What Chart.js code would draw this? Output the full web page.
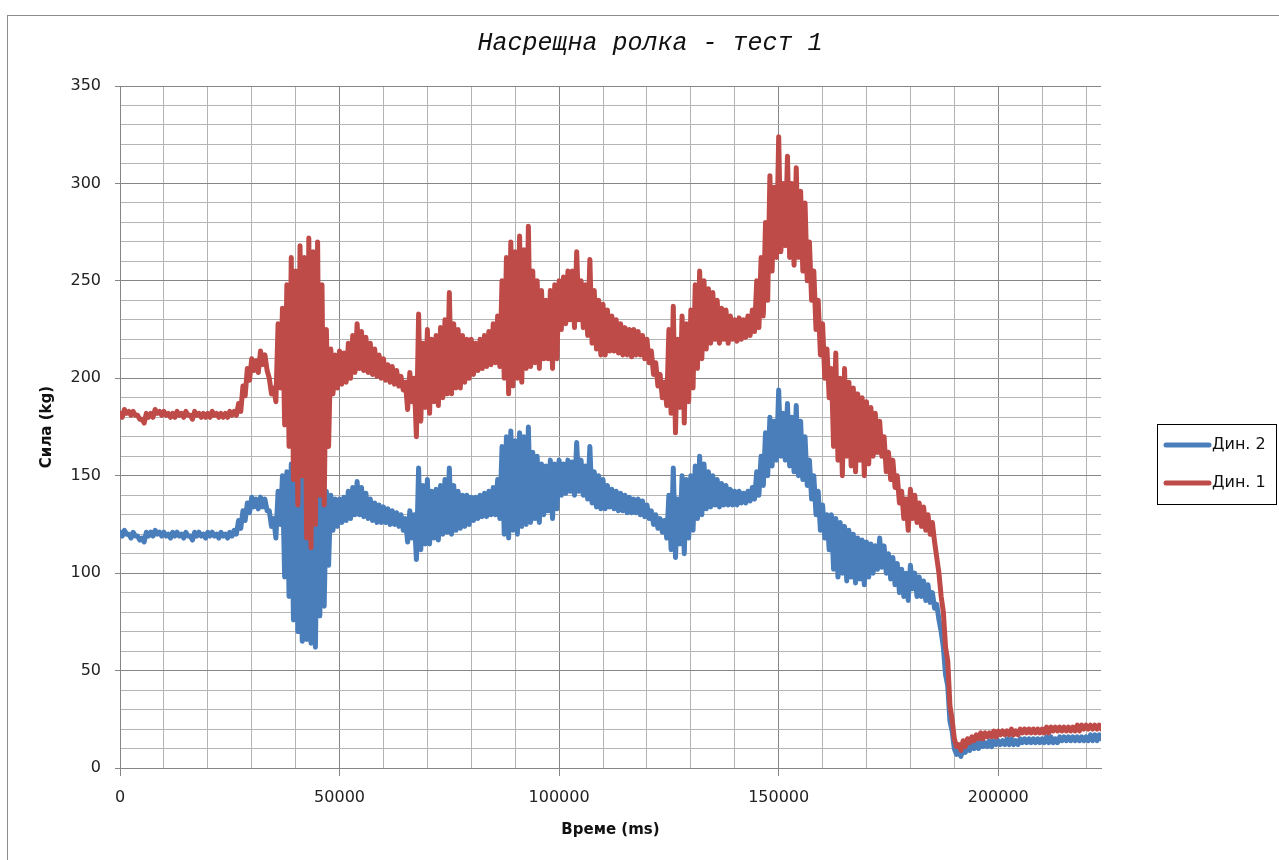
<!DOCTYPE html>
<html lang="bg">
<head>
<meta charset="UTF-8">
<title>Насрещна ролка - тест 1</title>
<script src="https://cdn.jsdelivr.net/npm/chart.js"></script>
<style>
  body { margin: 0; background: #fff; }
  #wrap { width: 1279px; height: 860px; }
</style>
</head>
<body>
<div id="wrap"><canvas id="forceChart" width="1279" height="860"></canvas></div>
<script>
// време (ms) - начало на всяка секунда
const time = [
  0, 1000, 2000, 3000, 4000, 5000, 6000, 7000, 8000, 9000,
  10000, 11000, 12000, 13000, 14000, 15000, 16000, 17000, 18000, 19000,
  20000, 21000, 22000, 23000, 24000, 25000, 26000, 27000, 28000, 29000,
  30000, 31000, 32000, 33000, 34000, 35000, 36000, 37000, 38000, 39000,
  40000, 41000, 42000, 43000, 44000, 45000, 46000, 47000, 48000, 49000,
  50000, 51000, 52000, 53000, 54000, 55000, 56000, 57000, 58000, 59000,
  60000, 61000, 62000, 63000, 64000, 65000, 66000, 67000, 68000, 69000,
  70000, 71000, 72000, 73000, 74000, 75000, 76000, 77000, 78000, 79000,
  80000, 81000, 82000, 83000, 84000, 85000, 86000, 87000, 88000, 89000,
  90000, 91000, 92000, 93000, 94000, 95000, 96000, 97000, 98000, 99000,
  100000, 101000, 102000, 103000, 104000, 105000, 106000, 107000, 108000, 109000,
  110000, 111000, 112000, 113000, 114000, 115000, 116000, 117000, 118000, 119000,
  120000, 121000, 122000, 123000, 124000, 125000, 126000, 127000, 128000, 129000,
  130000, 131000, 132000, 133000, 134000, 135000, 136000, 137000, 138000, 139000,
  140000, 141000, 142000, 143000, 144000, 145000, 146000, 147000, 148000, 149000,
  150000, 151000, 152000, 153000, 154000, 155000, 156000, 157000, 158000, 159000,
  160000, 161000, 162000, 163000, 164000, 165000, 166000, 167000, 168000, 169000,
  170000, 171000, 172000, 173000, 174000, 175000, 176000, 177000, 178000, 179000,
  180000, 181000, 182000, 183000, 184000, 185000, 186000, 187000, 188000, 189000,
  190000, 191000, 192000, 193000, 194000, 195000, 196000, 197000, 198000, 199000,
  200000, 201000, 202000, 203000, 204000, 205000, 206000, 207000, 208000, 209000,
  210000, 211000, 212000, 213000, 214000, 215000, 216000, 217000, 218000, 219000,
  220000, 221000, 222000, 223000
];

// Дин. 1 (kg) - горна граница на трептенето във всяка секунда
const din1Max = [
  182, 184, 183, 183, 181, 179, 182, 182, 184, 183,
  183, 182, 182, 183, 182, 183, 181, 183, 182, 182,
  182, 183, 182, 182, 182, 183, 183, 187, 196, 205,
  210, 209, 214, 212, 200, 195, 228, 236, 248, 262,
  255, 268, 262, 272, 265, 270, 248, 225, 215, 212,
  214, 213, 218, 222, 228, 224, 221, 218, 215, 212,
  210, 207, 206, 204, 201, 198, 203, 200, 233, 218,
  225, 220, 222, 226, 230, 244, 228, 225, 222, 220,
  220, 218, 220, 222, 224, 228, 232, 250, 262, 270,
  265, 273, 266, 278, 255, 250, 245, 240, 245, 248,
  250, 252, 255, 255, 265, 250, 248, 261, 245, 240,
  238, 235, 232, 230, 228, 226, 225, 225, 224, 222,
  220, 214, 208, 202, 198, 225, 237, 220, 232, 228,
  235, 248, 255, 250, 246, 244, 240, 236, 235, 232,
  230, 231, 230, 232, 235, 250, 262, 280, 304, 298,
  324, 300, 314, 300, 308, 296, 290, 270, 255, 240,
  228, 215, 205, 213, 200, 205, 198, 195, 192, 190,
  188, 185, 182, 178, 170, 162, 158, 150, 142, 138,
  143, 140, 136, 134, 130, 126, 108, 88, 62, 32,
  15, 12, 14, 15, 16, 17, 18, 18, 18, 19,
  19, 19, 19, 20, 19, 20, 20, 20, 20, 20,
  20, 21, 21, 21, 21, 21, 21, 21, 22, 22,
  22, 22, 22, 22
];

// Дин. 1 (kg) - долна граница
const din1Min = [
  180, 182, 181, 181, 179, 177, 180, 180, 182, 181,
  181, 180, 180, 181, 180, 181, 179, 181, 180, 180,
  180, 181, 180, 180, 180, 181, 181, 183, 191, 199,
  204, 203, 207, 204, 192, 188, 195, 176, 165, 148,
  135, 150, 118, 113, 125, 140, 135, 165, 192, 195,
  197, 198, 200, 203, 205, 204, 203, 202, 201, 200,
  199, 198, 197, 196, 194, 184, 188, 170, 178, 185,
  182, 188, 186, 190, 192, 192, 195, 195, 198, 200,
  202, 204, 205, 206, 207, 208, 206, 200, 192, 196,
  200, 198, 205, 206, 208, 205, 210, 210, 205, 210,
  225, 228, 230, 226, 230, 226, 222, 218, 215, 212,
  212, 214, 214, 213, 212, 212, 211, 212, 212, 210,
  208, 202, 196, 190, 186, 182, 172, 185, 177, 188,
  195, 205, 210, 215, 218, 220, 218, 220, 218, 220,
  219, 220, 221, 222, 224, 226, 232, 240, 255, 262,
  265, 268, 262, 258, 262, 255, 250, 240, 225, 212,
  200, 190, 165, 158, 150, 160, 155, 152, 158, 150,
  156, 160, 162, 160, 152, 148, 144, 136, 128, 122,
  128, 126, 124, 122, 120, 116, 100, 80, 55, 25,
  11, 9, 11, 13, 14, 15, 15, 16, 16, 16,
  17, 17, 17, 17, 17, 18, 18, 18, 18, 18,
  18, 18, 19, 19, 19, 19, 19, 19, 19, 20,
  20, 20, 20, 20
];

// Дин. 2 (kg) - горна граница
const din2Max = [
  121, 122, 120, 121, 119, 118, 121, 121, 122, 121,
  121, 120, 121, 121, 120, 121, 119, 121, 121, 120,
  121, 121, 120, 121, 120, 121, 122, 127, 132, 136,
  139, 138, 139, 138, 132, 128, 142, 150, 152, 156,
  155, 158, 150, 152, 150, 148, 145, 142, 140, 138,
  138, 139, 142, 144, 147, 144, 141, 138, 136, 135,
  134, 133, 132, 131, 130, 128, 132, 130, 154, 145,
  148, 142, 143, 145, 148, 154, 145, 142, 140, 140,
  139, 139, 140, 141, 142, 144, 148, 165, 170, 173,
  168, 172, 170, 175, 162, 160, 156, 155, 158, 156,
  158, 156, 158, 157, 167, 158, 155, 165, 152, 150,
  148, 145, 143, 142, 141, 140, 139, 138, 138, 137,
  135, 132, 130, 128, 127, 140, 154, 138, 150, 148,
  150, 155, 160, 156, 152, 150, 148, 146, 145, 143,
  142, 142, 141, 142, 144, 152, 160, 172, 180, 178,
  194, 182, 187, 180, 186, 178, 170, 158, 150, 142,
  135, 130, 130, 128, 126, 124, 122, 120, 118, 117,
  116, 115, 114, 118, 114, 110, 108, 105, 102, 100,
  104, 100, 98, 96, 94, 90, 84, 70, 48, 24,
  10, 9, 10, 11, 12, 13, 13, 13, 14, 14,
  14, 14, 15, 15, 14, 15, 15, 15, 15, 15,
  15, 16, 16, 15, 16, 16, 16, 16, 16, 16,
  16, 17, 17, 17
];

// Дин. 2 (kg) - долна граница
const din2Min = [
  119, 120, 118, 119, 117, 116, 119, 119, 120, 119,
  119, 118, 119, 119, 118, 119, 117, 119, 119, 118,
  119, 119, 118, 119, 118, 119, 120, 123, 127, 131,
  134, 133, 134, 132, 124, 118, 125, 98, 88, 76,
  70, 65, 66, 64, 62, 78, 83, 104, 122, 124,
  126, 127, 128, 130, 130, 129, 128, 127, 126, 126,
  126, 125, 125, 124, 122, 116, 118, 107, 112, 115,
  115, 118, 117, 120, 121, 120, 122, 123, 124, 125,
  127, 128, 129, 129, 130, 130, 128, 120, 118, 122,
  120, 124, 125, 126, 128, 126, 130, 132, 128, 133,
  140, 141, 142, 140, 142, 140, 138, 136, 134, 133,
  133, 134, 133, 132, 132, 131, 131, 131, 130, 129,
  128, 125, 123, 121, 118, 112, 108, 115, 110, 118,
  122, 128, 130, 133, 134, 135, 134, 135, 135, 135,
  135, 136, 136, 137, 138, 140, 145, 150, 155, 158,
  160, 158, 155, 152, 150, 148, 145, 138, 130, 122,
  118, 112, 102, 98, 100, 96, 98, 95, 97, 94,
  98, 100, 102, 103, 100, 97, 94, 90, 88, 86,
  92, 88, 88, 86, 85, 82, 76, 62, 42, 19,
  7, 6, 8, 9, 10, 10, 11, 11, 11, 12,
  12, 12, 12, 12, 12, 13, 13, 13, 13, 13,
  13, 13, 13, 13, 14, 14, 14, 14, 14, 14,
  14, 14, 14, 15
];

// линии на мрежата по X
const xGrid = [
  0, 10000, 20000, 30000, 40000, 50000, 60000, 70000, 80000, 90000,
  100000, 110000, 120000, 130000, 140000, 150000, 160000, 170000, 180000, 190000,
  200000, 210000, 220000
];

const RED = 'rgb(190, 75, 72)';
const BLUE = 'rgb(74, 126, 187)';
const GRID_MINOR = '#b4b4b4';
const GRID_MAJOR = '#868686';

// горна стойност в началото на секундата, долна - по средата ѝ
const toPoints = (hi, lo) => time.flatMap((t, i) => [
    { x: t, y: hi[i] },
    { x: t + 500, y: lo[i] },
]);

// рамка, заглавие и легенда
const decor = {
    id: 'decor',
    beforeDraw(chart) {
        const ctx = chart.ctx;
        ctx.save();
        ctx.fillStyle = '#fff';
        ctx.fillRect(0, 0, chart.width, chart.height);
        ctx.strokeStyle = '#8c8c8c';
        ctx.lineWidth = 1;
        ctx.strokeRect(7.5, 15.5, chart.width + 10, chart.height + 10);
        ctx.restore();
    },
    afterDraw(chart) {
        const ctx = chart.ctx;
        ctx.save();
        ctx.fillStyle = '#111';
        ctx.font = 'italic 25px "Liberation Mono", monospace';
        ctx.textAlign = 'center';
        ctx.textBaseline = 'middle';
        ctx.fillText('Насрещна ролка - тест 1', 650, 43);

        // легенда
        ctx.strokeStyle = '#000';
        ctx.lineWidth = 1;
        ctx.strokeRect(1157.5, 424.5, 119, 80);
        const items = [
            { label: 'Дин. 2', color: BLUE, y: 445 },
            { label: 'Дин. 1', color: RED, y: 483 }
        ];
        ctx.font = '16px "DejaVu Sans", sans-serif';
        ctx.textAlign = 'left';
        ctx.lineCap = 'round';
        items.forEach(it => {
            ctx.strokeStyle = it.color;
            ctx.lineWidth = 5;
            ctx.beginPath();
            ctx.moveTo(1166, it.y);
            ctx.lineTo(1209, it.y);
            ctx.stroke();
            ctx.fillStyle = '#111';
            ctx.fillText(it.label, 1212, it.y);
        });
        ctx.restore();
    }
};

const isMajorX = v => v % 50000 === 0;
const isMajorY = v => v % 50 === 0;

new Chart(document.getElementById('forceChart'), {
    type: 'line',
    data: {
        datasets: [
            {
                label: 'Дин. 1',
                data: toPoints(din1Max, din1Min),
                borderColor: RED,
                borderWidth: 5,
                pointRadius: 0,
                borderJoinStyle: 'round',
                borderCapStyle: 'round',
                fill: false,
            },
            {
                label: 'Дин. 2',
                data: toPoints(din2Max, din2Min),
                borderColor: BLUE,
                borderWidth: 5,
                pointRadius: 0,
                borderJoinStyle: 'round',
                borderCapStyle: 'round',
                fill: false,
            },
        ],
    },
    options: {
        responsive: false,
        animation: false,
        layout: { padding: { left: 0, top: 86, right: 178, bottom: 0 } },
        plugins: {
            legend: { display: false },
            title: { display: false },
            tooltip: { enabled: false },
        },
        scales: {
            x: {
                type: 'linear',
                min: 0,
                max: 223400,
                afterFit: s => { s.height = 92; },
                afterBuildTicks: s => { s.ticks = xGrid.map(v => ({ value: v })); },
                ticks: {
                    autoSkip: false,
                    maxRotation: 0,
                    padding: 12,
                    color: '#222',
                    font: { family: 'DejaVu Sans', size: 16 },
                    callback: v => (isMajorX(v) ? String(v) : ''),
                },
                grid: {
                    color: c => (c.tick && isMajorX(c.tick.value) ? GRID_MAJOR : GRID_MINOR),
                    tickColor: c => (c.tick && isMajorX(c.tick.value) ? GRID_MAJOR : 'rgba(0,0,0,0)'),
                    tickLength: 8,
                },
                border: { color: GRID_MAJOR },
                title: {
                    display: true,
                    text: 'Време (ms)',
                    color: '#111',
                    font: { family: 'DejaVu Sans', size: 15, weight: 'bold' },
                    padding: { top: 0, bottom: 21 },
                },
            },
            y: {
                min: 0,
                max: 350,
                afterFit: s => { s.width = 120; },
                ticks: {
                    stepSize: 10,
                    autoSkip: false,
                    padding: 14,
                    color: '#222',
                    font: { family: 'DejaVu Sans', size: 16 },
                    callback: v => (isMajorY(v) ? String(v) : ''),
                },
                grid: {
                    color: c => (c.tick && isMajorY(c.tick.value) ? GRID_MAJOR : GRID_MINOR),
                    tickColor: c => (c.tick && isMajorY(c.tick.value) ? GRID_MAJOR : 'rgba(0,0,0,0)'),
                    tickLength: 5,
                },
                border: { color: GRID_MAJOR },
                title: {
                    display: true,
                    text: 'Сила (kg)',
                    color: '#111',
                    font: { family: 'DejaVu Sans', size: 15, weight: 'bold' },
                    padding: { top: 38, bottom: 0 },
                },
            },
        },
    },
    plugins: [decor],
});
</script>
</body>
</html>
